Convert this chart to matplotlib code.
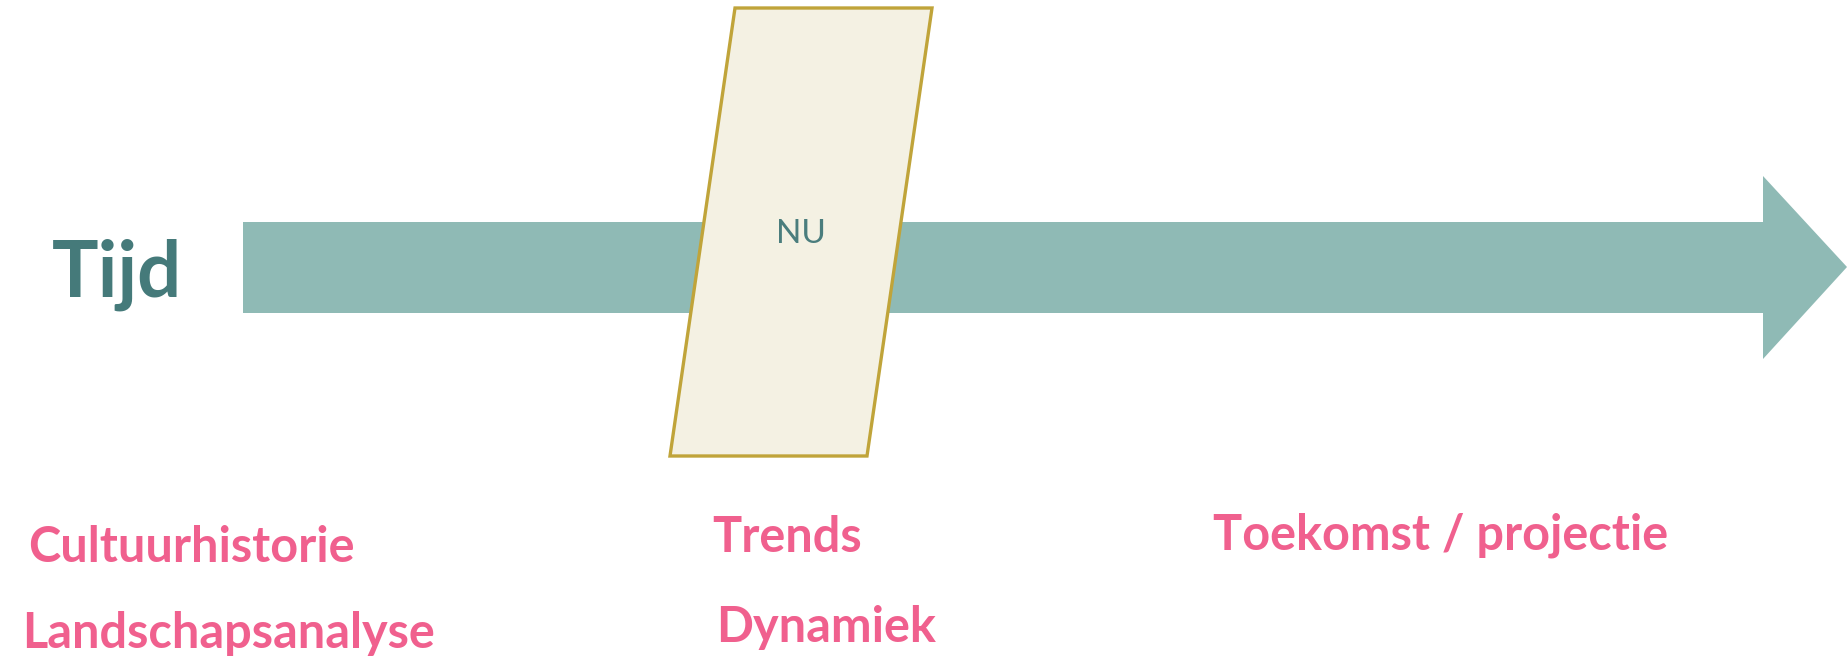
import matplotlib.pyplot as plt
from matplotlib.patches import Polygon

W, H = 1847, 664

# arrow outline (pixel coords, y down)
arrow_x = [243, 1763, 1763, 1847, 1763, 1763, 243]
arrow_y = [222, 222, 176, 267, 359, 313, 313]

# "NU" parallelogram
nu_x = [735, 932, 867, 670]
nu_y = [8, 8, 456, 456]

labels = ['Cultuurhistorie', 'Landschapsanalyse', 'Trends', 'Dynamiek', 'Toekomst / projectie']
label_x = [28, 22, 712, 716, 1213]
label_y = [562, 648, 552, 642, 550]

fig = plt.figure(figsize=(W / 100, H / 100), dpi=100)
ax = fig.add_axes([0, 0, 1, 1])
ax.set_xlim(0, W)
ax.set_ylim(H, 0)
ax.axis('off')

ax.add_patch(Polygon(list(zip(arrow_x, arrow_y)), closed=True,
                     facecolor='#8FBAB5', edgecolor='none', zorder=1))
ax.add_patch(Polygon(list(zip(nu_x, nu_y)), closed=True,
                     facecolor='#F4F1E3', edgecolor='#C0A43A', lw=2.4, zorder=2))

ax.text(801, 234, 'NU', color='#4A7D7D', fontsize=24, family='Lato',
        ha='center', va='center', zorder=3)
ax.text(52, 297, 'Tijd', color='#457A7A', fontsize=56, family='Lato',
        fontweight='bold', ha='left', va='baseline', zorder=3)

for lab, x, y in zip(labels, label_x, label_y):
    ax.text(x, y, lab, color='#F0608E', fontsize=35, family='Lato',
            fontweight='bold', ha='left', va='baseline')

fig.savefig('out.png', dpi=100)
